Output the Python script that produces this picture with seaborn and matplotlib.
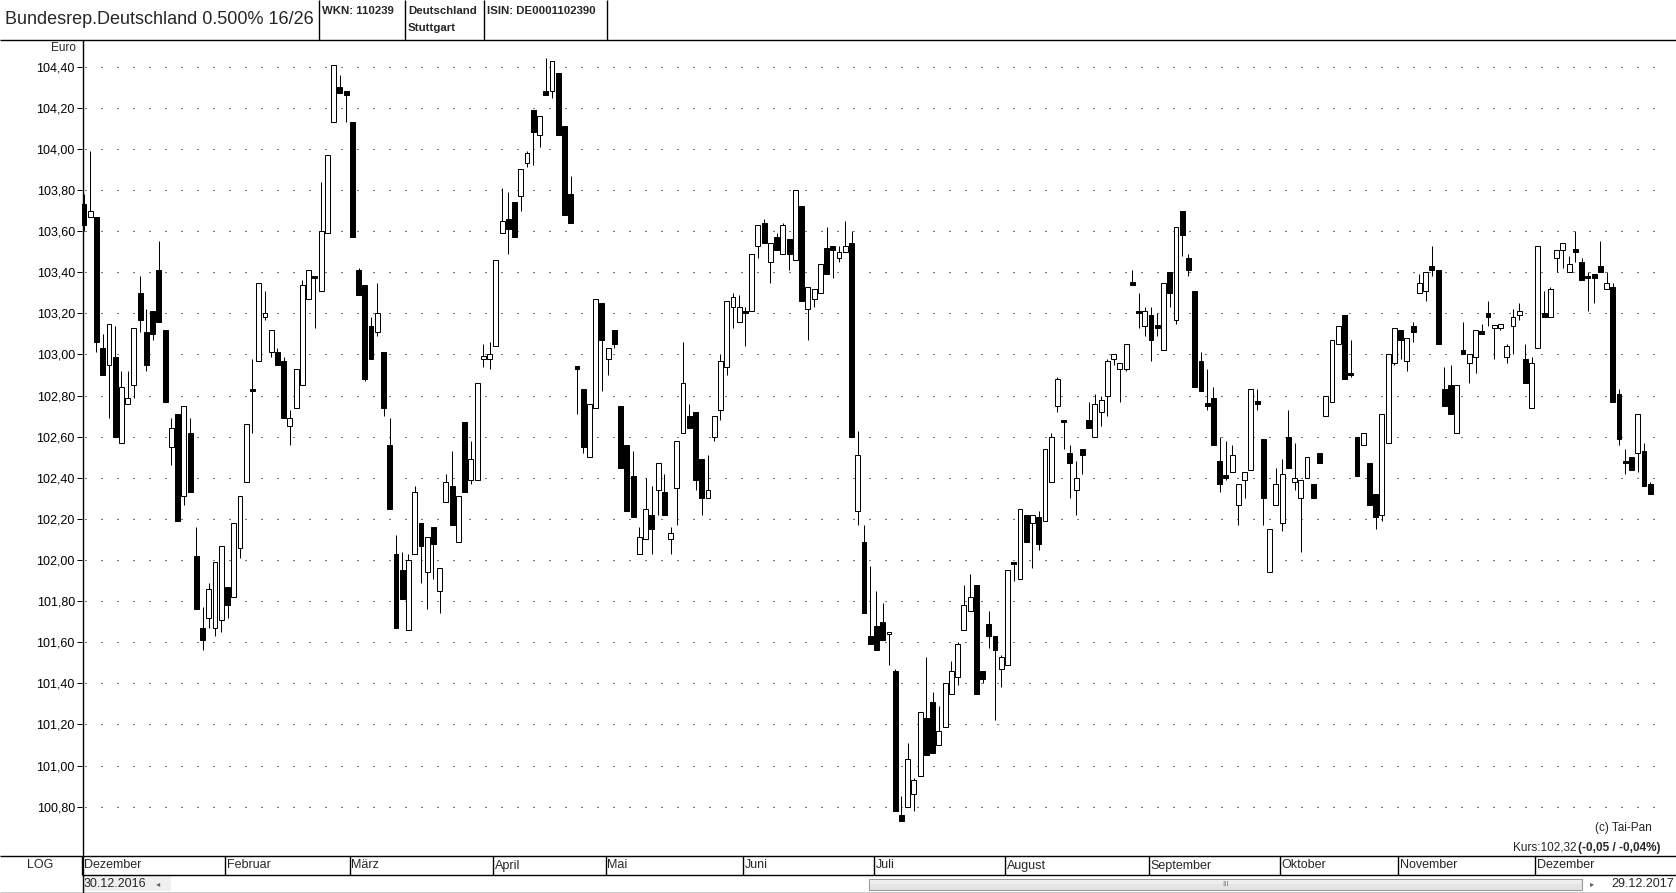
import numpy as np
import matplotlib
matplotlib.use("Agg")
import matplotlib.pyplot as plt
import matplotlib.font_manager as fm
from matplotlib.patches import Rectangle
from matplotlib.transforms import blended_transform_factory
import seaborn as sns
import pandas as pd

# %% data (daily OHLC, trading days 30.12.2016 - 29.12.2017)

opens = [103.73, 103.67, 103.67, 103.03, 102.95, 102.99, 102.57, 102.76, 102.85, 103.30,
         103.11, 103.21, 103.41, 103.12, 102.55, 102.71, 102.31, 102.62, 102.02, 101.67,
         101.72, 101.67, 101.71, 101.87, 101.82, 102.06, 102.38, 102.82, 102.97, 103.18,
         103.01, 103.01, 102.97, 102.65, 102.74, 102.85, 103.27, 103.37, 103.31, 103.59,
         104.13, 104.30, 104.28, 104.13, 103.41, 103.34, 103.14, 103.11, 103.01, 102.56,
         102.03, 101.95, 101.66, 102.03, 102.18, 101.94, 102.16, 101.85, 102.28, 102.36,
         102.09, 102.67, 102.39, 102.39, 102.98, 102.98, 103.04, 103.59, 103.66, 103.74,
         103.77, 103.93, 104.19, 104.07, 104.28, 104.28, 104.37, 104.11, 103.78, 102.94,
         102.83, 102.50, 102.74, 103.25, 102.98, 103.12, 102.75, 102.56, 102.41, 102.03,
         102.10, 102.22, 102.34, 102.33, 102.10, 102.35, 102.62, 102.70, 102.72, 102.49,
         102.30, 102.60, 102.73, 102.94, 103.23, 103.16, 103.20, 103.21, 103.53, 103.64,
         103.45, 103.57, 103.49, 103.56, 103.46, 103.72, 103.22, 103.27, 103.30, 103.52,
         103.53, 103.47, 103.50, 103.54, 102.24, 102.09, 101.63, 101.68, 101.70, 101.64,
         101.46, 100.76, 100.80, 100.86, 100.95, 101.23, 101.31, 101.10, 101.19, 101.35,
         101.43, 101.66, 101.75, 101.88, 101.46, 101.69, 101.63, 101.47, 101.49, 101.99,
         101.91, 102.22, 102.18, 102.21, 102.19, 102.38, 102.75, 102.67, 102.52, 102.34,
         102.54, 102.68, 102.60, 102.72, 102.80, 102.98, 102.93, 102.93, 103.35, 103.20,
         103.14, 103.19, 103.14, 103.02, 103.40, 103.17, 103.70, 103.47, 103.31, 102.97,
         102.75, 102.79, 102.48, 102.40, 102.43, 102.27, 102.39, 102.44, 102.77, 102.59,
         101.94, 102.27, 102.18, 102.60, 102.38, 102.30, 102.40, 102.37, 102.52, 102.70,
         102.77, 103.05, 103.19, 102.90, 102.60, 102.56, 102.47, 102.32, 102.22, 102.57,
         102.96, 103.12, 102.97, 103.14, 103.30, 103.31, 103.43, 103.41, 102.83, 102.85,
         102.62, 103.02, 102.96, 102.99, 103.11, 103.20, 103.13, 103.13, 102.99, 103.14,
         103.19, 102.98, 102.74, 103.03, 103.20, 103.18, 103.47, 103.51, 103.40, 103.50,
         103.45, 103.38, 103.39, 103.43, 103.32, 103.33, 102.81, 102.48, 102.50, 102.52,
         102.53, 102.37]
highs = [103.78, 103.99, 103.67, 103.10, 103.15, 103.14, 102.92, 102.92, 103.13, 103.38,
         103.22, 103.21, 103.55, 103.12, 102.69, 102.71, 102.75, 102.69, 102.16, 101.77,
         101.89, 101.99, 102.07, 101.87, 102.18, 102.31, 102.66, 102.98, 103.35, 103.31,
         103.12, 103.03, 102.99, 102.73, 102.93, 103.36, 103.41, 103.37, 103.84, 103.97,
         104.41, 104.36, 104.28, 104.13, 103.42, 103.34, 103.18, 103.35, 103.01, 102.69,
         102.12, 102.04, 102.03, 102.36, 102.18, 102.11, 102.16, 101.96, 102.42, 102.53,
         102.31, 102.67, 102.58, 102.86, 103.05, 103.06, 103.46, 103.81, 103.79, 103.74,
         103.90, 103.99, 104.19, 104.16, 104.44, 104.43, 104.37, 104.11, 103.87, 102.94,
         102.83, 102.76, 103.27, 103.25, 103.03, 103.12, 102.75, 102.56, 102.53, 102.16,
         102.40, 102.36, 102.47, 102.42, 102.16, 102.58, 103.06, 102.76, 102.72, 102.49,
         102.51, 102.70, 103.00, 103.26, 103.30, 103.29, 103.23, 103.49, 103.63, 103.66,
         103.54, 103.59, 103.64, 103.56, 103.80, 103.72, 103.33, 103.32, 103.44, 103.62,
         103.53, 103.53, 103.65, 103.60, 102.63, 102.17, 101.97, 101.85, 101.79, 101.65,
         101.47, 100.85, 101.11, 100.94, 101.26, 101.53, 101.36, 101.29, 101.40, 101.51,
         101.60, 101.88, 101.93, 101.88, 101.46, 101.75, 101.63, 101.54, 101.95, 101.99,
         102.25, 102.22, 102.22, 102.24, 102.54, 102.62, 102.89, 102.67, 102.56, 102.48,
         102.54, 102.77, 102.81, 102.80, 102.98, 103.00, 102.96, 103.05, 103.41, 103.30,
         103.23, 103.23, 103.20, 103.35, 103.40, 103.62, 103.70, 103.49, 103.31, 103.01,
         102.93, 102.84, 102.60, 102.58, 102.56, 102.37, 102.43, 102.83, 102.83, 102.59,
         102.15, 102.45, 102.49, 102.73, 102.57, 102.39, 102.50, 102.37, 102.52, 102.80,
         103.07, 103.14, 103.19, 103.07, 102.60, 102.62, 102.47, 102.32, 102.71, 103.00,
         103.13, 103.12, 103.08, 103.16, 103.39, 103.40, 103.53, 103.41, 102.94, 102.95,
         102.85, 103.16, 103.00, 103.12, 103.15, 103.26, 103.14, 103.15, 103.05, 103.22,
         103.25, 103.05, 102.99, 103.53, 103.31, 103.33, 103.51, 103.54, 103.48, 103.60,
         103.47, 103.40, 103.39, 103.55, 103.40, 103.35, 102.83, 102.54, 102.50, 102.71,
         102.57, 102.38]
lows = [103.60, 103.67, 103.01, 102.90, 102.69, 102.60, 102.57, 102.76, 102.79, 103.11,
        102.92, 103.07, 103.16, 102.77, 102.46, 102.19, 102.27, 102.33, 101.76, 101.56,
        101.67, 101.63, 101.65, 101.72, 101.82, 102.01, 102.38, 102.62, 102.97, 103.17,
        102.99, 102.95, 102.69, 102.56, 102.74, 102.85, 103.27, 103.13, 103.31, 103.59,
        104.13, 104.27, 104.13, 103.57, 103.29, 102.87, 102.98, 103.09, 102.70, 102.25,
        101.67, 101.81, 101.66, 102.03, 101.89, 101.76, 101.91, 101.74, 102.28, 102.17,
        102.09, 102.33, 102.37, 102.39, 102.94, 102.93, 103.04, 103.59, 103.49, 103.57,
        103.70, 103.91, 103.92, 104.01, 104.26, 104.25, 104.07, 103.68, 103.64, 102.71,
        102.52, 102.50, 102.74, 102.82, 102.90, 103.03, 102.45, 102.24, 102.21, 102.03,
        102.10, 102.03, 102.22, 102.22, 102.03, 102.17, 102.62, 102.64, 102.34, 102.22,
        102.30, 102.58, 102.68, 102.90, 103.13, 103.16, 103.04, 103.21, 103.47, 103.54,
        103.35, 103.51, 103.49, 103.41, 103.46, 103.26, 103.07, 103.23, 103.30, 103.39,
        103.37, 103.45, 103.50, 102.60, 102.17, 101.74, 101.59, 101.56, 101.61, 101.49,
        100.78, 100.73, 100.80, 100.78, 100.95, 101.05, 101.06, 101.10, 101.19, 101.35,
        101.39, 101.66, 101.75, 101.35, 101.40, 101.57, 101.22, 101.38, 101.49, 101.90,
        101.91, 102.09, 101.96, 102.05, 102.19, 102.38, 102.72, 102.54, 102.30, 102.22,
        102.42, 102.64, 102.60, 102.65, 102.70, 102.95, 102.77, 102.92, 103.34, 103.13,
        103.09, 102.97, 103.09, 103.02, 103.23, 103.15, 103.48, 103.38, 102.84, 102.82,
        102.73, 102.56, 102.33, 102.39, 102.43, 102.17, 102.30, 102.44, 102.73, 102.17,
        101.94, 102.27, 102.14, 102.45, 102.34, 102.04, 102.40, 102.30, 102.47, 102.70,
        102.77, 103.05, 102.88, 102.89, 102.41, 102.56, 102.27, 102.15, 102.19, 102.57,
        102.95, 102.98, 102.92, 103.06, 103.30, 103.26, 103.38, 103.05, 102.75, 102.71,
        102.62, 103.00, 102.86, 102.91, 103.10, 103.14, 102.98, 103.12, 102.96, 103.00,
        103.17, 102.86, 102.74, 103.03, 103.18, 103.18, 103.40, 103.42, 103.40, 103.45,
        103.36, 103.21, 103.25, 103.40, 103.32, 102.77, 102.56, 102.42, 102.44, 102.43,
        102.36, 102.32]
closes = [103.63, 103.70, 103.06, 102.90, 103.15, 102.60, 102.84, 102.79, 103.13, 103.17,
          102.95, 103.10, 103.16, 102.77, 102.64, 102.19, 102.75, 102.33, 101.76, 101.61,
          101.86, 101.99, 102.07, 101.78, 102.18, 102.31, 102.66, 102.82, 103.35, 103.20,
          103.12, 102.95, 102.69, 102.69, 102.93, 103.34, 103.41, 103.37, 103.60, 103.97,
          104.41, 104.27, 104.26, 103.57, 103.29, 102.88, 102.98, 103.20, 102.74, 102.25,
          101.67, 101.81, 102.00, 102.33, 102.07, 102.11, 102.08, 101.96, 102.38, 102.17,
          102.31, 102.33, 102.49, 102.86, 102.99, 103.00, 103.46, 103.65, 103.61, 103.57,
          103.90, 103.98, 104.08, 104.16, 104.26, 104.43, 104.07, 103.68, 103.64, 102.93,
          102.55, 102.76, 103.27, 103.07, 103.03, 103.05, 102.45, 102.24, 102.21, 102.11,
          102.25, 102.15, 102.47, 102.22, 102.13, 102.58, 102.86, 102.64, 102.39, 102.30,
          102.34, 102.70, 102.97, 103.26, 103.28, 103.23, 103.20, 103.49, 103.63, 103.54,
          103.54, 103.51, 103.63, 103.49, 103.80, 103.26, 103.33, 103.32, 103.44, 103.39,
          103.51, 103.50, 103.53, 102.60, 102.51, 101.74, 101.59, 101.56, 101.61, 101.65,
          100.78, 100.73, 101.03, 100.93, 101.26, 101.05, 101.06, 101.17, 101.40, 101.46,
          101.59, 101.78, 101.82, 101.35, 101.42, 101.63, 101.56, 101.53, 101.95, 101.98,
          102.25, 102.09, 102.22, 102.08, 102.54, 102.60, 102.88, 102.67, 102.47, 102.40,
          102.51, 102.64, 102.76, 102.78, 102.97, 103.00, 102.96, 103.05, 103.34, 103.20,
          103.21, 103.07, 103.13, 103.35, 103.30, 103.62, 103.58, 103.41, 102.84, 102.82,
          102.75, 102.56, 102.37, 102.40, 102.51, 102.37, 102.43, 102.83, 102.76, 102.30,
          102.15, 102.37, 102.42, 102.45, 102.40, 102.39, 102.50, 102.30, 102.47, 102.80,
          103.07, 103.14, 102.88, 102.90, 102.41, 102.62, 102.27, 102.21, 102.71, 103.00,
          103.13, 103.07, 103.08, 103.11, 103.35, 103.40, 103.41, 103.05, 102.75, 102.71,
          102.85, 103.00, 103.00, 103.12, 103.10, 103.18, 103.14, 103.15, 103.04, 103.18,
          103.21, 102.86, 102.96, 103.53, 103.18, 103.32, 103.51, 103.54, 103.44, 103.50,
          103.36, 103.37, 103.37, 103.40, 103.35, 102.77, 102.59, 102.47, 102.44, 102.71,
          102.36, 102.32]

month_names = ["Dezember", "Februar", "März", "April", "Mai", "Juni", "Juli",
               "August", "September", "Oktober", "November", "Dezember"]
month_start = [0, 23, 43, 66, 84, 106, 127, 148, 171, 192, 211, 233]

ytick_vals = [100.8, 101.0, 101.2, 101.4, 101.6, 101.8, 102.0, 102.2, 102.4,
              102.6, 102.8, 103.0, 103.2, 103.4, 103.6, 103.8, 104.0, 104.2, 104.4]
ytick_labels = ["100,80", "101,00", "101,20", "101,40", "101,60", "101,80", "102,00",
                "102,20", "102,40", "102,60", "102,80", "103,00", "103,20", "103,40",
                "103,60", "103,80", "104,00", "104,20", "104,40"]

title = "Bundesrep.Deutschland 0.500% 16/26"
start_date = "30.12.2016"
end_date = "29.12.2017"

df = pd.DataFrame({"open": opens, "high": highs, "low": lows, "close": closes})
df["day"] = np.arange(len(df))
df["up"] = df["close"] > df["open"]

# %% style

sns.set_theme(style="white")
names = {f.name for f in fm.fontManager.ttflist}
base = ["Liberation Sans", "Arial", "DejaVu Sans"]
narrow = (["Liberation Sans Narrow"] if "Liberation Sans Narrow" in names else []) + base
plt.rcParams["font.family"] = base
nsize = 9.5 if narrow[0] == "Liberation Sans Narrow" else 8.2

W, H = 1676, 893
fig = plt.figure(figsize=(W / 100, H / 100), dpi=100)
fig.patch.set_facecolor("white")

# main chart
ax = fig.add_axes([82 / W, (H - 855) / H, (W - 82) / W, (855 - 40) / H])
ax.set_facecolor("white")
px_day = 6.24
ax.set_xlim(-(84 - 82) / px_day, (W - 84) / px_day)
ax.set_ylim(100.80 - (855 - 806.7) / 205.6, 104.40 + (66.7 - 40) / 205.6)
for s in ["top", "right", "bottom", "left"]:
    ax.spines[s].set_visible(False)
ax.set_xticks([])
ax.set_yticks(ytick_vals)
ax.set_yticklabels(ytick_labels)
ax.tick_params(axis="y", left=True, length=3.6, width=0.72, color="black",
               pad=1.5, labelsize=9, labelcolor="black")

# dotted grid
ax.hlines(ytick_vals, 0.2, 253, colors="black", linewidth=0.8,
          linestyles=[(0, (0.9, 13.5))], zorder=1)

# candles
body_lo = df[["open", "close"]].min(axis=1)
body_h = (df["close"] - df["open"]).abs().clip(lower=0.012)
ax.vlines(df["day"], df["low"], df["high"], colors="black", linewidth=0.72, zorder=2)
ax.bar(df["day"], body_h, bottom=body_lo, width=0.78,
       color=np.where(df["up"], "white", "black"), edgecolor="black",
       linewidth=0.72, zorder=3)

# overlay in pixel coordinates for frame and text
ov = fig.add_axes([0, 0, 1, 1], zorder=5)
ov.set_xlim(0, W)
ov.set_ylim(H, 0)
ov.axis("off")
ov.patch.set_alpha(0)

lk = dict(color="black", linewidth=1.0, solid_capstyle="butt")
ov.plot([0, W], [39.5, 39.5], **lk)
ov.plot([0, W], [855.5, 855.5], **lk)
ov.plot([82, W], [874.5, 874.5], **lk)
ov.plot([0, W], [892.5, 892.5], **lk)
ov.plot([82.5, 82.5], [39.5, 893], **lk)
for xs in [318.5, 404.5, 483.5, 606.5]:
    ov.plot([xs, xs], [0, 39.5], **lk)

# header
ov.text(5, 20, title, fontsize=13, va="center", ha="left")
ov.text(322, 11, "WKN: 110239", fontsize=nsize, fontweight="bold",
        family=narrow, va="center")
ov.text(408, 11, "Deutschland", fontsize=nsize, fontweight="bold",
        family=narrow, va="center")
ov.text(408, 28, "Stuttgart", fontsize=nsize, fontweight="bold",
        family=narrow, va="center")
ov.text(487, 11, "ISIN: DE0001102390", fontsize=nsize, fontweight="bold",
        family=narrow, va="center")

ov.text(76, 48, "Euro", fontsize=8.5, ha="right", va="center")
ov.text(40, 865, "LOG", fontsize=9, ha="center", va="center")

# month row
trans = blended_transform_factory(ax.transData, ov.transData)
for name, d in zip(month_names, month_start):
    xb = max(d - 0.4, -0.3)
    ov.plot([xb, xb], [855.5, 874.5], transform=trans, **lk)
    ov.text(xb + 0.25, 865.5, name, transform=trans, fontsize=9,
            ha="left", va="center")

# scroll row
ov.add_patch(Rectangle((83, 876), 88, 15, facecolor="#f0f0f0", edgecolor="none"))
ov.text(84, 884, start_date, fontsize=9, ha="left", va="center")
ov.text(158, 884, "\u25c2", fontsize=6, ha="center", va="center",
        color="#606060", family=["DejaVu Sans"])
ov.add_patch(Rectangle((869, 879), 713, 11, facecolor="#e4e4e4",
                       edgecolor="#9c9c9c", linewidth=0.8))
ov.add_patch(Rectangle((870, 880), 711, 4, facecolor="#efefef", edgecolor="none"))
ov.text(1225, 885, "III", fontsize=5.5, ha="center", va="center", color="#707070")
ov.text(1592, 884, "\u25b8", fontsize=6, ha="center", va="center",
        color="#606060", family=["DejaVu Sans"])
ov.text(1674, 884, end_date, fontsize=9, ha="right", va="center")

# footer notes
ov.text(1652, 828, "(c) Tai-Pan", fontsize=8.5, ha="right", va="center")
t_bold = ov.text(1660, 848, "(-0,05 / -0,04%)", fontsize=8.5, fontweight="bold",
                 ha="right", va="center")
fig.canvas.draw()
bb = t_bold.get_window_extent(fig.canvas.get_renderer())
ov.text(bb.x0 - 1, 848, "Kurs:102,32", fontsize=8.5, ha="right", va="center")

fig.savefig("out.png", dpi=100, facecolor="white")
